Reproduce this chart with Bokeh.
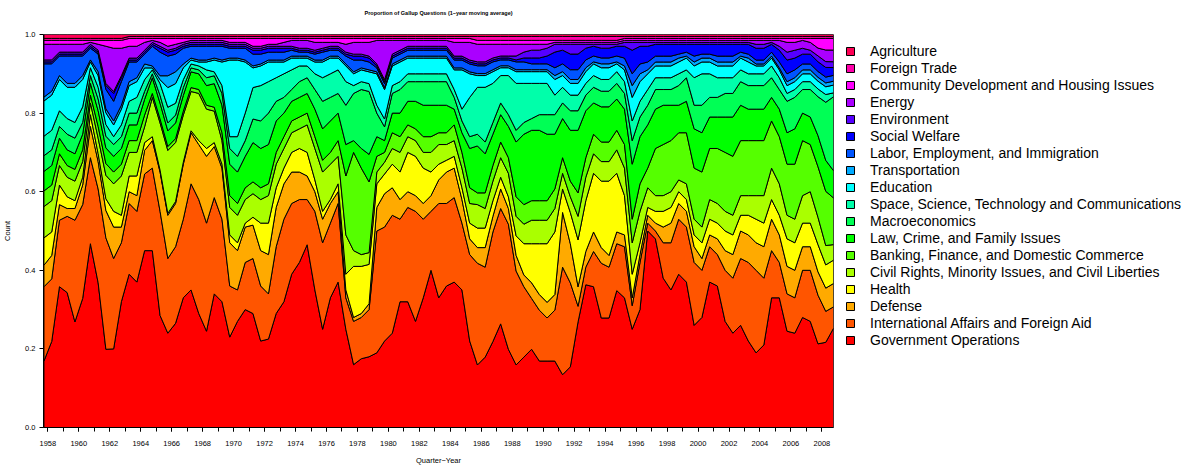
import numpy as np
from bokeh.plotting import figure
from bokeh.models import Legend, LegendItem, FixedTicker, PrintfTickFormatter, Range1d, Title
from bokeh.embed import file_html
from bokeh.resources import INLINE

# quarter-year positions (half-year sampling of the 1-year moving average)
quarter_year = np.arange(1957.75, 2009.0, 0.5)

gov_ops = [
0.17,0.22,0.36,0.345,0.27,0.33,0.47,0.37,0.20,0.20,0.32,0.39,0.37,0.45,
0.45,0.285,0.24,0.265,0.33,0.35,0.29,0.245,0.34,0.32,0.23,0.27,0.30,
0.29,0.22,0.225,0.29,0.32,0.39,0.42,0.465,0.35,0.25,0.33,0.37,0.25,
0.16,0.175,0.18,0.19,0.22,0.24,0.32,0.32,0.27,0.33,0.40,0.33,0.36,
0.37,0.35,0.22,0.16,0.18,0.22,0.265,0.20,0.16,0.18,0.20,0.17,0.17,
0.17,0.135,0.155,0.27,0.365,0.36,0.28,0.28,0.35,0.33,0.25,0.30,0.50,
0.48,0.38,0.35,0.39,0.37,0.26,0.28,0.37,0.36,0.27,0.24,0.26,0.22,
0.19,0.21,0.33,0.33,0.245,0.24,0.28,0.27,0.215,0.22,0.255]

intl_affairs = [
0.19,0.16,0.17,0.195,0.26,0.24,0.22,0.24,0.285,0.23,0.15,0.18,0.18,0.195,
0.21,0.265,0.19,0.195,0.20,0.27,0.29,0.275,0.245,0.21,0.13,0.08,0.12,
0.14,0.14,0.115,0.17,0.21,0.18,0.16,0.115,0.20,0.22,0.19,0.20,0.08,
0.11,0.105,0.12,0.31,0.29,0.30,0.21,0.24,0.28,0.20,0.15,0.24,0.21,
0.215,0.17,0.22,0.26,0.23,0.28,0.295,0.32,0.24,0.18,0.13,0.13,0.11,
0.13,0.275,0.215,0.04,0.045,0.09,0.14,0.13,0.12,0.13,0.06,0.12,0.02,
0.02,0.09,0.12,0.14,0.14,0.16,0.12,0.09,0.08,0.13,0.14,0.17,0.20,
0.21,0.17,0.12,0.09,0.095,0.09,0.12,0.13,0.125,0.08,0.055]

defense = [
0.055,0.06,0.04,0.02,0.03,0.05,0.08,0.07,0.07,0.08,0.04,0.03,0.04,0.06,
0.07,0.10,0.11,0.11,0.14,0.13,0.14,0.17,0.13,0.13,0.11,0.10,0.09,
0.085,0.09,0.10,0.10,0.09,0.08,0.07,0.06,0.05,0.06,0.05,0.03,0.02,
0.01,0.01,0.015,0.06,0.085,0.07,0.05,0.04,0.04,0.04,0.04,0.06,0.08,
0.075,0.06,0.04,0.04,0.05,0.04,0.05,0.04,0.04,0.03,0.04,0.04,0.04,
0.04,0.14,0.10,0.05,0.04,0.05,0.04,0.03,0.03,0.03,0.02,0.02,0.02,
0.02,0.04,0.05,0.04,0.04,0.04,0.03,0.03,0.04,0.05,0.06,0.07,0.07,
0.07,0.08,0.08,0.07,0.07,0.07,0.06,0.06,0.06,0.06,0.06]

health = [
0.07,0.06,0.05,0.03,0.02,0.02,0.03,0.02,0.03,0.04,0.03,0.04,0.05,0.02,
0.01,0.005,0.005,0.005,0.005,0.005,0.01,0.02,0.01,0.01,0.02,0.02,0.01,
0.02,0.07,0.08,0.05,0.04,0.05,0.06,0.06,0.03,0.02,0.01,0.02,0.04,
0.13,0.12,0.10,0.06,0.05,0.06,0.07,0.10,0.10,0.09,0.06,0.04,0.03,
0.03,0.03,0.04,0.05,0.05,0.04,0.03,0.03,0.05,0.08,0.10,0.13,0.15,
0.16,0.06,0.08,0.12,0.13,0.15,0.17,0.19,0.15,0.10,0.06,0.03,0.02,
0.03,0.04,0.04,0.03,0.03,0.03,0.04,0.04,0.04,0.05,0.05,0.04,0.05,
0.06,0.06,0.05,0.05,0.07,0.07,0.06,0.06,0.07,0.06,0.06]

civil_rights = [
0.08,0.08,0.05,0.05,0.05,0.04,0.03,0.04,0.06,0.07,0.10,0.06,0.06,0.04,
0.10,0.12,0.16,0.15,0.12,0.10,0.12,0.10,0.08,0.06,0.07,0.07,0.06,
0.06,0.06,0.07,0.06,0.05,0.05,0.05,0.07,0.08,0.10,0.09,0.07,0.10,
0.04,0.03,0.03,0.03,0.03,0.04,0.05,0.04,0.04,0.04,0.05,0.05,0.04,
0.04,0.05,0.05,0.06,0.05,0.05,0.05,0.06,0.05,0.05,0.06,0.06,0.06,
0.06,0.04,0.04,0.06,0.06,0.05,0.05,0.05,0.06,0.07,0.08,0.08,0.05,
0.04,0.04,0.04,0.03,0.04,0.04,0.04,0.05,0.05,0.05,0.05,0.05,0.05,
0.06,0.07,0.08,0.08,0.06,0.06,0.07,0.08,0.07,0.05,0.04]

banking = [
0.04,0.04,0.03,0.03,0.03,0.03,0.02,0.03,0.03,0.03,0.03,0.03,0.03,0.03,
0.01,0.01,0.01,0.01,0.01,0.01,0.01,0.01,0.01,0.02,0.03,0.03,0.03,
0.03,0.03,0.03,0.03,0.03,0.03,0.03,0.03,0.03,0.03,0.03,0.04,0.15,
0.25,0.22,0.18,0.04,0.025,0.04,0.04,0.03,0.03,0.04,0.04,0.03,0.03,
0.04,0.04,0.04,0.03,0.04,0.04,0.04,0.04,0.05,0.05,0.05,0.05,0.05,
0.05,0.04,0.04,0.06,0.05,0.05,0.05,0.05,0.05,0.06,0.06,0.07,0.05,
0.12,0.13,0.13,0.12,0.13,0.13,0.14,0.13,0.14,0.15,0.15,0.14,0.14,
0.14,0.14,0.12,0.12,0.13,0.14,0.14,0.12,0.13,0.14,0.12]

law_crime = [
0.05,0.05,0.04,0.04,0.04,0.04,0.03,0.04,0.04,0.04,0.04,0.04,0.04,0.04,
0.04,0.04,0.04,0.04,0.04,0.04,0.04,0.05,0.06,0.07,0.08,0.08,0.08,
0.10,0.10,0.10,0.08,0.06,0.05,0.05,0.05,0.07,0.08,0.08,0.07,0.08,
0.03,0.05,0.07,0.05,0.03,0.05,0.06,0.06,0.07,0.08,0.08,0.07,0.07,
0.04,0.05,0.10,0.12,0.10,0.08,0.07,0.08,0.14,0.18,0.18,0.18,0.17,
0.14,0.10,0.13,0.16,0.12,0.08,0.09,0.09,0.08,0.09,0.14,0.12,0.11,
0.10,0.10,0.09,0.07,0.08,0.10,0.10,0.08,0.08,0.09,0.10,0.09,0.08,
0.08,0.08,0.06,0.07,0.08,0.09,0.07,0.07,0.08,0.08,0.07]

macroeconomics = [
0.04,0.04,0.03,0.04,0.04,0.03,0.02,0.03,0.03,0.03,0.03,0.03,0.03,0.02,
0.01,0.02,0.02,0.02,0.02,0.01,0.01,0.02,0.02,0.03,0.04,0.04,0.04,
0.06,0.07,0.08,0.05,0.04,0.03,0.04,0.04,0.05,0.07,0.06,0.05,0.10,
0.12,0.15,0.16,0.06,0.035,0.05,0.06,0.05,0.05,0.06,0.06,0.06,0.06,
0.03,0.03,0.03,0.03,0.03,0.03,0.03,0.03,0.03,0.03,0.03,0.04,0.05,
0.05,0.04,0.05,0.05,0.04,0.04,0.04,0.04,0.04,0.04,0.06,0.05,0.05,
0.05,0.04,0.04,0.05,0.06,0.06,0.07,0.05,0.05,0.06,0.06,0.06,0.06,
0.06,0.06,0.05,0.05,0.08,0.08,0.06,0.07,0.10,0.15,0.19]

space_science = [
0.05,0.05,0.04,0.04,0.04,0.04,0.02,0.03,0.03,0.02,0.03,0.03,0.04,0.03,
0.01,0.03,0.04,0.03,0.02,0.01,0.01,0.02,0.01,0.02,0.03,0.05,0.07,
0.08,0.09,0.08,0.06,0.06,0.05,0.04,0.03,0.04,0.06,0.06,0.06,0.06,
0.02,0.02,0.02,0.02,0.02,0.02,0.02,0.02,0.02,0.02,0.02,0.02,0.02,
0.02,0.03,0.10,0.12,0.14,0.10,0.07,0.10,0.12,0.10,0.09,0.08,0.08,
0.05,0.04,0.04,0.04,0.03,0.03,0.03,0.03,0.03,0.03,0.05,0.04,0.04,
0.03,0.03,0.03,0.03,0.02,0.07,0.08,0.06,0.05,0.04,0.04,0.03,0.03,
0.03,0.03,0.03,0.03,0.02,0.02,0.02,0.02,0.02,0.02,0.01]

education = [
0.09,0.09,0.08,0.08,0.09,0.07,0.015,0.03,0.03,0.03,0.04,0.04,0.04,0.03,
0.005,0.01,0.05,0.05,0.03,0.01,0.01,0.02,0.03,0.06,0.195,0.195,0.13,
0.05,0.05,0.05,0.04,0.03,0.03,0.02,0.02,0.03,0.04,0.04,0.03,0.04,
0.03,0.03,0.03,0.08,0.075,0.05,0.05,0.04,0.04,0.04,0.04,0.04,0.04,
0.05,0.10,0.06,0.03,0.03,0.03,0.02,0.02,0.03,0.03,0.03,0.03,0.03,
0.04,0.03,0.03,0.03,0.03,0.03,0.03,0.03,0.02,0.03,0.06,0.05,0.04,
0.03,0.03,0.03,0.03,0.03,0.03,0.03,0.03,0.03,0.03,0.03,0.03,0.03,
0.02,0.02,0.02,0.02,0.02,0.02,0.02,0.02,0.02,0.02,0.02]

transportation = [
0.01,0.01,0.01,0.01,0.01,0.01,0.005,0.01,0.01,0.01,0.01,0.01,0.01,0.01,
0.005,0.01,0.03,0.03,0.01,0.005,0.005,0.005,0.005,0.005,0.005,0.005,0.005,
0.005,0.005,0.005,0.005,0.005,0.005,0.005,0.005,0.005,0.005,0.005,0.005,0.005,
0.005,0.005,0.005,0.005,0.005,0.005,0.005,0.005,0.005,0.005,0.005,0.005,0.005,
0.005,0.005,0.005,0.005,0.005,0.005,0.005,0.005,0.005,0.005,0.005,0.005,0.005,
0.01,0.01,0.01,0.01,0.01,0.005,0.01,0.01,0.005,0.01,0.03,0.02,0.01,
0.01,0.01,0.01,0.01,0.005,0.01,0.01,0.01,0.01,0.01,0.01,0.005,0.01,
0.005,0.005,0.005,0.005,0.01,0.01,0.01,0.01,0.01,0.01,0.01]

labor = [
0.085,0.07,0.05,0.07,0.07,0.05,0.03,0.045,0.05,0.05,0.06,0.05,0.04,0.025,
0.05,0.06,0.05,0.045,0.04,0.03,0.035,0.035,0.03,0.035,0.025,0.025,0.03,
0.03,0.025,0.02,0.02,0.02,0.015,0.01,0.01,0.015,0.02,0.015,0.015,0.02,
0.03,0.02,0.02,0.01,0.01,0.015,0.015,0.015,0.015,0.015,0.015,0.015,0.015,
0.02,0.02,0.02,0.02,0.02,0.02,0.015,0.015,0.02,0.02,0.015,0.015,0.015,
0.02,0.02,0.025,0.025,0.02,0.015,0.015,0.015,0.015,0.02,0.03,0.025,0.02,
0.015,0.015,0.015,0.01,0.01,0.015,0.01,0.01,0.015,0.015,0.015,0.01,0.01,
0.01,0.01,0.01,0.015,0.02,0.02,0.015,0.015,0.015,0.015,0.015]

social_welfare = [
0.005,0.005,0.005,0.005,0.005,0.005,0.005,0.005,0.01,0.02,0.01,0.005,0.005,0.005,
0.005,0.01,0.01,0.01,0.005,0.005,0.005,0.005,0.005,0.005,0.005,0.005,0.005,
0.01,0.01,0.01,0.01,0.01,0.005,0.005,0.005,0.005,0.005,0.005,0.005,0.005,
0.01,0.01,0.01,0.005,0.005,0.005,0.005,0.005,0.005,0.005,0.005,0.005,0.005,
0.005,0.005,0.005,0.005,0.005,0.005,0.005,0.005,0.005,0.01,0.015,0.015,0.02,
0.04,0.035,0.04,0.04,0.03,0.025,0.025,0.025,0.025,0.03,0.06,0.045,0.04,
0.03,0.03,0.03,0.025,0.02,0.03,0.025,0.025,0.03,0.03,0.03,0.02,0.025,
0.03,0.03,0.02,0.03,0.035,0.03,0.025,0.025,0.025,0.025,0.02]

environment = [
0.005,0.005,0.005,0.005,0.005,0.005,0.005,0.005,0.005,0.005,0.005,0.005,0.005,0.005,
0.005,0.005,0.005,0.005,0.005,0.005,0.005,0.005,0.005,0.005,0.005,0.005,0.005,
0.005,0.005,0.005,0.005,0.005,0.005,0.005,0.005,0.005,0.005,0.005,0.005,0.005,
0.005,0.005,0.005,0.005,0.005,0.005,0.005,0.005,0.005,0.005,0.005,0.005,0.005,
0.005,0.005,0.005,0.005,0.005,0.005,0.005,0.005,0.01,0.015,0.02,0.02,0.02,
0.02,0.015,0.025,0.025,0.01,0.005,0.01,0.01,0.005,0.01,0.02,0.01,0.01,
0.005,0.005,0.005,0.005,0.005,0.005,0.005,0.005,0.005,0.005,0.005,0.005,0.005,
0.01,0.01,0.005,0.01,0.02,0.02,0.015,0.01,0.015,0.015,0.015]

energy = [
0.04,0.04,0.02,0.02,0.02,0.02,0.005,0.015,0.095,0.11,0.07,0.03,0.03,0.02,
0.005,0.01,0.01,0.01,0.005,0.005,0.005,0.005,0.005,0.005,0.005,0.005,0.005,
0.005,0.005,0.005,0.005,0.01,0.015,0.02,0.02,0.02,0.015,0.01,0.01,0.02,
0.03,0.03,0.035,0.06,0.10,0.035,0.025,0.015,0.015,0.015,0.015,0.015,0.015,
0.035,0.035,0.045,0.045,0.045,0.035,0.03,0.03,0.03,0.02,0.015,0.015,0.01,
0.005,0.005,0.005,0.005,0.005,0.005,0.005,0.005,0.005,0.005,0.005,0.005,0.005,
0.005,0.005,0.005,0.005,0.005,0.005,0.005,0.005,0.005,0.005,0.005,0.005,0.005,
0.01,0.01,0.005,0.015,0.025,0.02,0.02,0.02,0.02,0.03,0.03]

community_dev = [
0.01,0.01,0.01,0.01,0.01,0.01,0.005,0.01,0.015,0.02,0.02,0.02,0.02,0.01,
0.005,0.01,0.02,0.015,0.01,0.005,0.005,0.005,0.005,0.005,0.01,0.01,0.01,
0.02,0.02,0.015,0.015,0.01,0.005,0.005,0.005,0.01,0.01,0.01,0.01,0.015,
0.01,0.01,0.01,0.005,0.005,0.005,0.005,0.005,0.005,0.005,0.005,0.005,0.005,
0.01,0.01,0.01,0.01,0.01,0.01,0.01,0.01,0.01,0.01,0.01,0.01,0.01,
0.005,0.005,0.005,0.005,0.005,0.005,0.005,0.005,0.005,0.005,0.005,0.005,0.005,
0.005,0.005,0.005,0.005,0.005,0.005,0.005,0.005,0.005,0.005,0.005,0.005,0.005,
0.005,0.005,0.005,0.005,0.01,0.01,0.005,0.01,0.025,0.03,0.03]

foreign_trade = [
0.005,0.005,0.005,0.005,0.005,0.005,0.005,0.005,0.005,0.005,0.005,0.005,0.005,0.005,
0.005,0.005,0.005,0.005,0.005,0.005,0.005,0.005,0.005,0.005,0.005,0.005,0.005,
0.005,0.005,0.005,0.005,0.005,0.005,0.005,0.005,0.005,0.005,0.005,0.005,0.005,
0.005,0.005,0.005,0.005,0.005,0.005,0.005,0.005,0.005,0.005,0.005,0.005,0.005,
0.005,0.005,0.005,0.01,0.01,0.01,0.01,0.01,0.01,0.01,0.01,0.01,0.01,
0.01,0.01,0.01,0.01,0.01,0.01,0.01,0.01,0.01,0.005,0.005,0.005,0.005,
0.005,0.005,0.005,0.005,0.005,0.005,0.005,0.005,0.005,0.005,0.005,0.005,0.005,
0.005,0.005,0.005,0.005,0.005,0.005,0.005,0.005,0.005,0.005,0.005]

agriculture = [
0.01,0.01,0.01,0.01,0.01,0.01,0.01,0.01,0.01,0.01,0.01,0.005,0.005,0.005,
0.005,0.005,0.005,0.005,0.005,0.005,0.005,0.005,0.005,0.005,0.005,0.005,0.005,
0.005,0.005,0.005,0.005,0.005,0.005,0.005,0.005,0.005,0.005,0.005,0.005,0.005,
0.005,0.005,0.005,0.005,0.005,0.005,0.005,0.005,0.005,0.005,0.005,0.005,0.005,
0.005,0.005,0.005,0.005,0.005,0.005,0.005,0.005,0.005,0.005,0.005,0.005,0.005,
0.005,0.005,0.005,0.005,0.005,0.005,0.005,0.005,0.005,0.005,0.005,0.005,0.005,
0.005,0.005,0.005,0.005,0.005,0.005,0.005,0.005,0.005,0.005,0.005,0.005,0.005,
0.005,0.005,0.005,0.005,0.005,0.005,0.005,0.005,0.005,0.005,0.005]

# bottom to top of the stack
topics = [
    "Government Operations", "International Affairs and Foreign Aid", "Defense", "Health",
    "Civil Rights, Minority Issues, and Civil Liberties", "Banking, Finance, and Domestic Commerce",
    "Law, Crime, and Family Issues", "Macroeconomics", "Space, Science, Technology and Communications",
    "Education", "Transportation", "Labor, Employment, and Immigration", "Social Welfare",
    "Environment", "Energy", "Community Development and Housing Issues", "Foreign Trade", "Agriculture",
]
series = [gov_ops, intl_affairs, defense, health, civil_rights, banking, law_crime, macroeconomics,
          space_science, education, transportation, labor, social_welfare, environment, energy,
          community_dev, foreign_trade, agriculture]
colors = ["#FF0000", "#FF5500", "#FFAA00", "#FFFF00", "#AAFF00", "#55FF00", "#00FF00", "#00FF55",
          "#00FFAA", "#00FFFF", "#00AAFF", "#0055FF", "#0000FF", "#5500FF", "#AA00FF", "#FF00FF",
          "#FF00AA", "#FF0055"]

x = np.asarray(quarter_year, dtype=float)
for name, s in zip(topics, series):
    assert len(s) == len(x), (name, len(s), len(x))

vals = np.array(series, dtype=float)
vals = vals / vals.sum(axis=0)          # proportions
tops = np.cumsum(vals, axis=0)

FONT = "Liberation Sans"

p = figure(frame_width=790, frame_height=393, min_border_left=43, min_border_right=354,
           min_border_top=34, min_border_bottom=39, output_backend="svg", toolbar_location=None,
           x_range=Range1d(1957.72, 2008.75), y_range=Range1d(0.0, 1.0), title=None)

# spacer (closest to the frame) then the real title above it
p.add_layout(Title(text=" ", text_font_size="1px", standoff=15), "above")
p.add_layout(Title(text="Proportion of Gallup Questions (1\u2212year moving average)", align="center",
                   text_font=FONT, text_font_size="5.5px", text_font_style="bold",
                   text_color="black", standoff=2), "above")

p.xgrid.visible = False
p.ygrid.visible = False
p.outline_line_color = "#808080"
p.background_fill_color = "white"
p.border_fill_color = "white"

renderers = []
bottom = np.zeros_like(x)
for k in range(len(series)):
    top = tops[k]
    xs = np.concatenate([x, x[::-1]])
    ys = np.concatenate([top, bottom[::-1]])
    r = p.patch(xs, ys, fill_color=colors[k], line_color="black", line_width=1)
    renderers.append(r)
    bottom = top

items = [LegendItem(label=topics[k], renderers=[renderers[k]]) for k in range(len(series) - 1, -1, -1)]
legend = Legend(items=items, location=(12, 79), label_text_font=FONT, label_text_font_size="14px",
                label_text_color="black",
                glyph_width=10, glyph_height=10, label_height=17, spacing=0, padding=3, margin=0,
                label_standoff=15, border_line_color=None, background_fill_alpha=0)
p.add_layout(legend, "right")

even_years = list(range(1958, 2009, 2))
all_years = list(range(1958, 2009))
p.xaxis.ticker = FixedTicker(ticks=even_years, minor_ticks=all_years)
p.xaxis.axis_label = "Quarter\u2212Year"
p.yaxis.ticker = FixedTicker(ticks=[0, 0.2, 0.4, 0.6, 0.8, 1.0], minor_ticks=[])
p.yaxis.formatter = PrintfTickFormatter(format="%.1f")
p.yaxis.axis_label = "Count"
for ax in (p.xaxis[0], p.yaxis[0]):
    ax.major_label_text_font = FONT
    ax.major_label_text_font_size = "7.5px"
    ax.major_label_text_color = "black"
    ax.axis_label_text_font = FONT
    ax.axis_label_text_font_size = "7.5px"
    ax.axis_label_text_font_style = "normal"
    ax.axis_label_text_color = "black"
    ax.major_tick_in = 0
    ax.major_tick_out = 4
    ax.minor_tick_in = 0
    ax.minor_tick_out = 4
    ax.axis_line_color = "black"
    ax.major_tick_line_color = "black"
    ax.minor_tick_line_color = "black"
p.xaxis.major_label_standoff = 9
p.xaxis.axis_label_standoff = 7
p.yaxis.major_label_standoff = 4
p.yaxis.axis_label_standoff = 10
p.yaxis.major_label_orientation = "horizontal"

open("out.html", "w").write(file_html(p, INLINE))
